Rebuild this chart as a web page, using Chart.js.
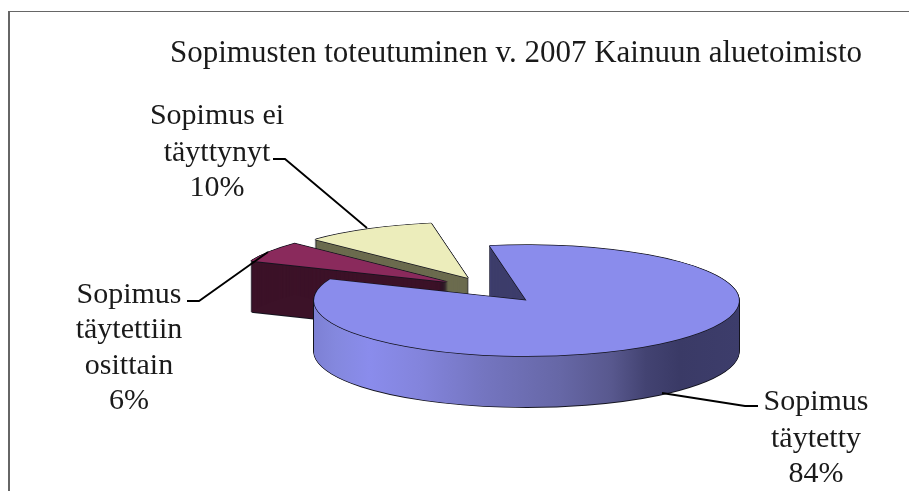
<!DOCTYPE html>
<html>
<head>
<meta charset="utf-8">
<style>
html,body{margin:0;padding:0;background:#fff;}
#wrap{position:relative;width:909px;height:491px;overflow:hidden;}
#frame{position:absolute;left:8px;top:11px;width:920px;height:600px;border:1px solid #666;border-width:1px 0 0 2px;box-sizing:border-box;}
canvas{position:absolute;left:0;top:0;}
</style>
<script src="https://cdn.jsdelivr.net/npm/chart.js@4/dist/chart.umd.js"></script>
</head>
<body>
<div id="wrap"><div id="frame"></div><canvas id="c" width="909" height="491"></canvas></div>
<script>
const chartTitle = "Sopimusten toteutuminen v. 2007 Kainuun aluetoimisto";
const categories = ["Sopimus täytetty", "Sopimus täytettiin osittain", "Sopimus ei täyttynyt"];
const values = [84, 6, 10];
const topColors = ["#8a8cec", "#8a2a5c", "#ecedbb"];
const wallColors = ["#3d3d6b", "#3c1228", "#6b6b4e"];
const labelLines = [["Sopimus", "täytetty", "84%"], ["Sopimus", "täytettiin", "osittain", "6%"], ["Sopimus ei", "täyttynyt", "10%"]];

const CX = 526.5, CY = 300.5, RX = 212.5, RY = 55.5, DEPTH = 51;
const explode = [[0, 0], [-79, -18.5], [-58.5, -22.5]];
const drawOrder = [2, 1, 0];
const labelPos = [
  {x: 816, y: [410, 447, 482]},
  {x: 129, y: [303, 338, 374, 409]},
  {x: 217, y: [124, 161, 196]}
];
const leaders = [
  [[758, 406], [745, 406], [662, 393]],
  [[187, 301], [199, 301], [268, 252]],
  [[273, 159], [285, 159], [367, 228]]
];
const OUTLINE = "#14141f";

const pie3d = {
  id: "pie3d",
  beforeDatasetDraw(chart, args) {
    const ctx = chart.ctx;
    const arcs = chart.getDatasetMeta(args.index).data;
    const K = RY / RX;
    const paint = (arc, i, sx, sy, fill) => {
      ctx.save();
      ctx.translate(CX + explode[i][0] + sx, CY + explode[i][1] + sy);
      ctx.scale(1, K);
      ctx.translate(-arc.x, -arc.y);
      const saved = arc.options.backgroundColor;
      arc.options.backgroundColor = typeof fill === "function" ? fill(arc) : fill;
      arc.draw(ctx);
      arc.options.backgroundColor = saved;
      ctx.restore();
    };
    const rimGradient = (arc) => {
      const g = ctx.createLinearGradient(arc.x - RX, 0, arc.x + RX, 0);
      [[0, "#7d80d4"], [0.05, "#8488de"], [0.13, "#8a8cec"], [0.25, "#8384dc"], [0.4, "#7475c0"],
       [0.58, "#6667a6"], [0.7, "#58588e"], [0.78, "#434372"], [0.86, "#3a3a66"], [1, "#3d3d6b"]]
        .forEach(s => g.addColorStop(s[0], s[1]));
      return g;
    };
    drawOrder.forEach(i => {
      const arc = arcs[i];
      for (let d = 0; d <= DEPTH; d++) {
        paint(arc, i, -0.7, d, OUTLINE);
        paint(arc, i, 0.7, d, OUTLINE);
      }
      paint(arc, i, 0, DEPTH + 0.9, OUTLINE);
      for (let d = 0; d <= DEPTH; d++) {
        paint(arc, i, 0, d, i === 0 ? rimGradient : wallColors[i]);
      }
      if (i === 0) {
        ctx.save();
        ctx.beginPath();
        ctx.rect(CX - 37, CY - 56, 40, 56);
        ctx.clip();
        for (let d = 0; d <= DEPTH; d++) paint(arc, i, 0, d, wallColors[0]);
        ctx.restore();
      }
      [[-0.7, 0], [0.7, 0], [0, -0.7], [0, 0.8]].forEach(o => paint(arc, i, o[0], o[1], OUTLINE));
      paint(arc, i, 0, 0, topColors[i]);
    });
    return false;
  },
  afterDatasetsDraw(chart) {
    const ctx = chart.ctx;
    ctx.save();
    ctx.strokeStyle = "#000";
    ctx.lineWidth = 1.8;
    leaders.forEach(path => {
      ctx.beginPath();
      path.forEach((p, j) => j ? ctx.lineTo(p[0], p[1]) : ctx.moveTo(p[0], p[1]));
      ctx.stroke();
    });
    ctx.fillStyle = "#1a1a1a";
    ctx.textAlign = "center";
    ctx.textBaseline = "alphabetic";
    ctx.font = '31px "Liberation Serif"';
    ctx.fillText(chartTitle, 516, 62);
    ctx.font = '30px "Liberation Serif"';
    labelLines.forEach((lines, i) => {
      lines.forEach((t, j) => ctx.fillText(t, labelPos[i].x, labelPos[i].y[j]));
    });
    ctx.restore();
  }
};

new Chart(document.getElementById("c"), {
  type: "pie",
  data: {
    labels: categories,
    datasets: [{ data: values, backgroundColor: topColors, borderWidth: 0, offset: 0, radius: RX }]
  },
  options: {
    responsive: false,
    animation: false,
    rotation: -10,
    layout: { padding: 0 },
    plugins: { legend: { display: false }, title: { display: false }, tooltip: { enabled: false } }
  },
  plugins: [pie3d]
});
</script>
</body>
</html>
